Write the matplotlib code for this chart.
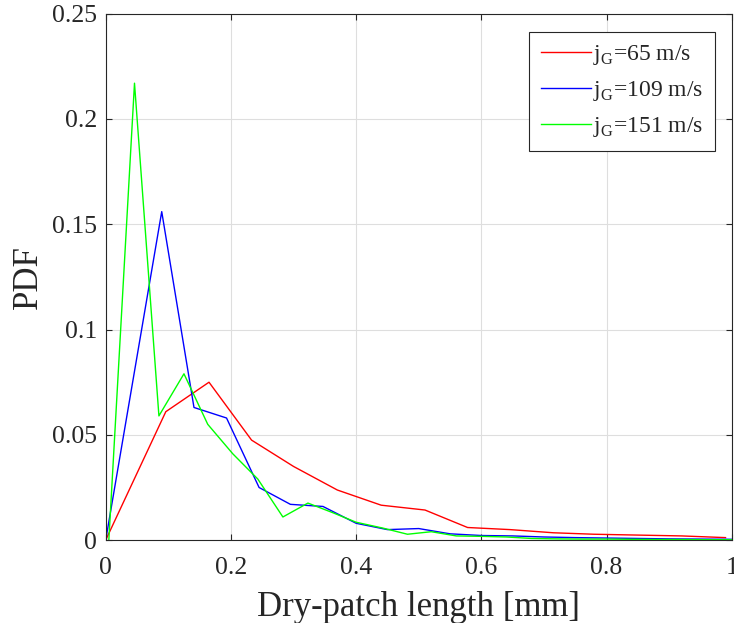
"""Dry-patch length PDF for three gas superficial velocities."""

import matplotlib
matplotlib.use("Agg")
import matplotlib.pyplot as plt

# jG = 65 m/s
x_65 = [0.0, 0.096, 0.165, 0.233, 0.30, 0.37, 0.44, 0.51, 0.578, 0.646,
        0.715, 0.78, 0.85, 0.92, 0.99]
pdf_65 = [0.0, 0.061, 0.075, 0.0475, 0.035, 0.0238, 0.0166, 0.0143, 0.006,
          0.005, 0.0035, 0.0028, 0.0024, 0.002, 0.0012]

# jG = 109 m/s
x_109 = [0.0, 0.0895, 0.141, 0.193, 0.245, 0.295, 0.347, 0.40, 0.45, 0.50,
         0.55, 0.60, 0.65, 0.70, 0.75, 0.80, 0.85, 0.90, 0.95, 1.0]
pdf_109 = [0.0, 0.156, 0.063, 0.058, 0.025, 0.017, 0.016, 0.008, 0.005,
           0.0055, 0.003, 0.0022, 0.002, 0.0015, 0.0012, 0.001, 0.0008,
           0.0006, 0.0005, 0.0004]

# jG = 151 m/s
x_151 = [0.005, 0.046, 0.085, 0.125, 0.163, 0.203, 0.243, 0.283, 0.323,
         0.363, 0.40, 0.443, 0.482, 0.52, 0.56, 0.60, 0.64, 0.68, 0.72,
         0.76, 0.80, 0.84, 0.88, 0.92, 0.96, 1.0]
pdf_151 = [0.0, 0.217, 0.059, 0.079, 0.055, 0.041, 0.029, 0.011, 0.0176,
           0.013, 0.0085, 0.0057, 0.0028, 0.004, 0.002, 0.0018, 0.0015,
           0.0008, 0.0006, 0.0005, 0.0005, 0.0004, 0.0003, 0.0003, 0.0002,
           0.0002]

SERIES = [
    (x_65, pdf_65, "#ff0000", r"j$_\mathregular{G}$=65 m/s"),
    (x_109, pdf_109, "#0000ff", r"j$_\mathregular{G}$=109 m/s"),
    (x_151, pdf_151, "#00ff00", r"j$_\mathregular{G}$=151 m/s"),
]

plt.rcParams["font.family"] = ["Liberation Serif", "DejaVu Serif"]
plt.rcParams["mathtext.fontset"] = "custom"
plt.rcParams["mathtext.rm"] = "Liberation Serif"

fig = plt.figure(figsize=(7.34, 6.23), dpi=100)
ax = fig.add_axes([0.144, 0.133, 0.853, 0.845])

for xs, ys, color, label in SERIES:
    ax.plot(xs, ys, color=color, lw=1.0, label=label)

ax.set_xlim(0, 1)
ax.set_ylim(0, 0.25)
ax.set_xticks([0, 0.2, 0.4, 0.6, 0.8, 1])
ax.set_xticklabels(["0", "0.2", "0.4", "0.6", "0.8", "1"])
ax.set_yticks([0, 0.05, 0.1, 0.15, 0.2, 0.25])
ax.set_yticklabels(["0", "0.05", "0.1", "0.15", "0.2", "0.25"])
ax.tick_params(direction="in", labelsize=18.5, length=4, width=0.8,
               top=True, right=True, color="0.15", labelcolor="0.15")
ax.tick_params(axis="x", pad=12)
ax.tick_params(axis="y", pad=6)
ax.grid(True, color="0.87", lw=0.8)
ax.set_axisbelow(True)
for spine in ax.spines.values():
    spine.set_color("0.15")
    spine.set_linewidth(0.8)

ax.set_xlabel("Dry-patch length [mm]", fontsize=25, color="0.15", labelpad=9)
ax.set_ylabel("PDF", fontsize=25, color="0.15", labelpad=5)

leg = ax.legend(loc="upper right", bbox_to_anchor=(0.973, 0.966),
                borderaxespad=0, fontsize=17,
                fancybox=False, edgecolor="0.15", framealpha=1,
                handlelength=2.1, handletextpad=0.1, borderpad=0.5,
                labelspacing=0.5)
leg.get_frame().set_linewidth(0.8)
for text in leg.get_texts():
    text.set_color("0.15")

fig.savefig("out.png", dpi=100)
